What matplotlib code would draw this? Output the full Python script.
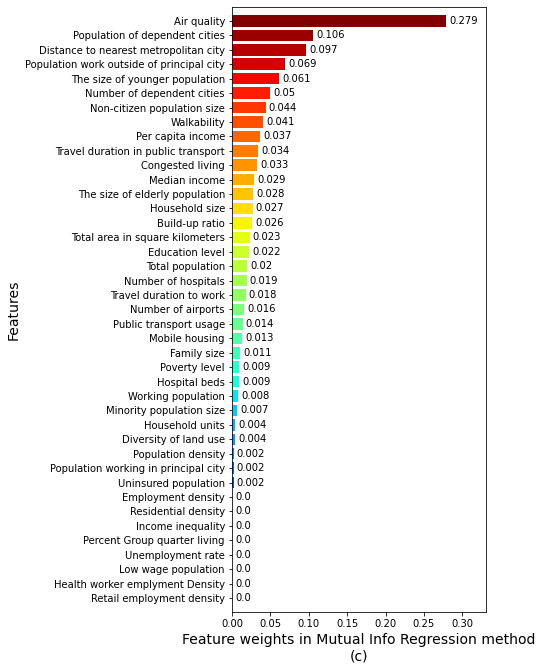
import matplotlib
matplotlib.use("Agg")
import matplotlib.pyplot as plt
import numpy as np

plt.rcParams["text.hinting"] = "auto"
plt.rcParams["text.hinting_factor"] = 8

features = [
    "Air quality", "Population of dependent cities", "Distance to nearest metropolitan city",
    "Population work outside of principal city", "The size of younger population",
    "Number of dependent cities", "Non-citizen population size", "Walkability",
    "Per capita income", "Travel duration in public transport", "Congested living",
    "Median income", "The size of elderly population", "Household size", "Build-up ratio",
    "Total area in square kilometers", "Education level", "Total population",
    "Number of hospitals", "Travel duration to work", "Number of airports",
    "Public transport usage", "Mobile housing", "Family size", "Poverty level",
    "Hospital beds", "Working population", "Minority population size", "Household units",
    "Diversity of land use", "Population density", "Population working in principal city",
    "Uninsured population", "Employment density", "Residential density", "Income inequality",
    "Percent Group quarter living", "Unemployment rate", "Low wage population",
    "Health worker emplyment Density", "Retail employment density",
]
weights = [
    0.279, 0.106, 0.097, 0.069, 0.061, 0.05, 0.044, 0.041, 0.037, 0.034, 0.033,
    0.029, 0.028, 0.027, 0.026, 0.023, 0.022, 0.02, 0.019, 0.018, 0.016, 0.014,
    0.013, 0.011, 0.009, 0.009, 0.008, 0.007, 0.004, 0.004, 0.002, 0.002, 0.002,
    0.0, 0.0, 0.0, 0.0, 0.0, 0.0, 0.0, 0.0,
]

# smallest at the bottom
feat = features[::-1]
vals = weights[::-1]
n = len(vals)
pos = np.arange(n)
colors = plt.cm.jet(np.linspace(0, 1, n))

fig = plt.figure(figsize=(542 / 72, 670 / 72), dpi=72)
ax = fig.add_axes([0.428, 0.0866, 0.469, 0.903])

ax.barh(pos, vals, color=colors, height=0.8)
for i, v in enumerate(vals):
    ax.text(v + 0.004, i, str(round(v, 3)), va="center", ha="left", fontsize=10)

ax.set_yticks(pos)
ax.set_yticklabels(feat, fontsize=10)
ax.set_ylim(-0.97, n - 1 + 0.97)
ax.set_xlim(0, 0.331)
ax.set_xticks([0.0, 0.05, 0.1, 0.15, 0.2, 0.25, 0.3])
ax.set_xticklabels(["0.00", "0.05", "0.10", "0.15", "0.20", "0.25", "0.30"], fontsize=10)

ax.set_xlabel("Feature weights in Mutual Info Regression method\n(c)", fontsize=14)
ax.set_ylabel("Features", fontsize=14)

fig.savefig("out.png", dpi=72)
